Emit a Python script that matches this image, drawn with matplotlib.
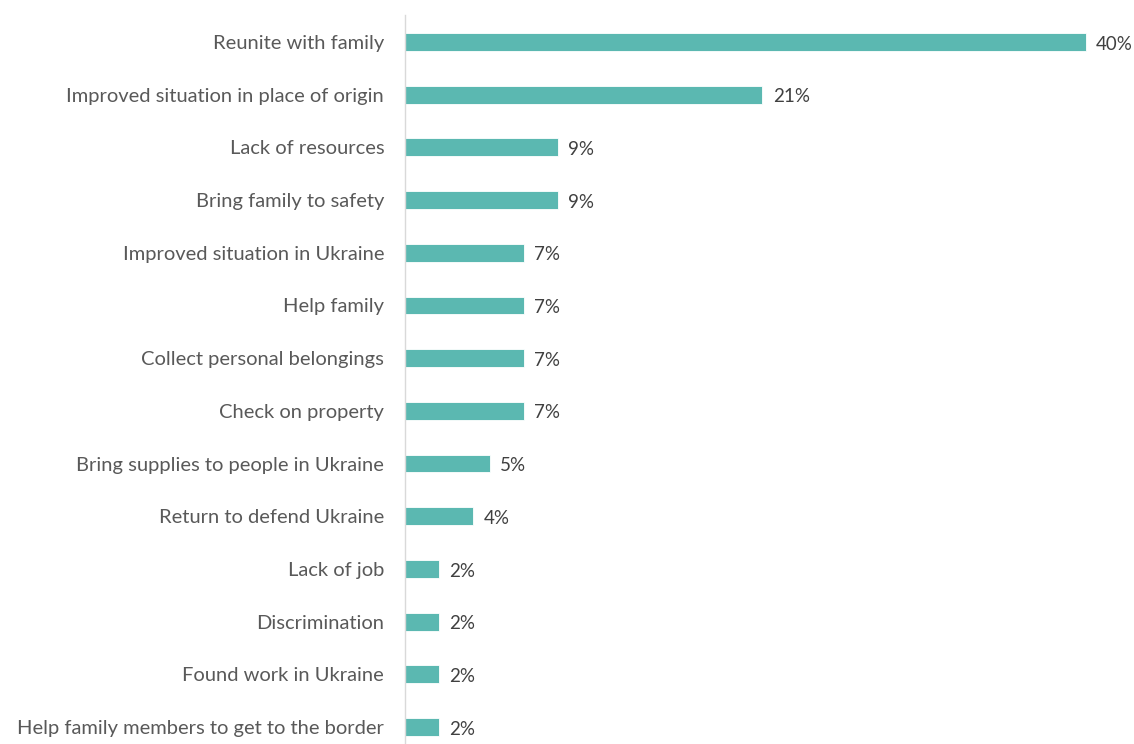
import matplotlib
matplotlib.use("Agg")
import matplotlib.pyplot as plt

categories = [
    "Reunite with family",
    "Improved situation in place of origin",
    "Lack of resources",
    "Bring family to safety",
    "Improved situation in Ukraine",
    "Help family",
    "Collect personal belongings",
    "Check on property",
    "Bring supplies to people in Ukraine",
    "Return to defend Ukraine",
    "Lack of job",
    "Discrimination",
    "Found work in Ukraine",
    "Help family members to get to the border",
]
values = [40, 21, 9, 9, 7, 7, 7, 7, 5, 4, 2, 2, 2, 2]

plt.rcParams["font.family"] = ["Lato", "DejaVu Sans"]

W, H = 1134, 744
fig = plt.figure(figsize=(W / 100, H / 100), dpi=100)
ax = fig.add_axes([405 / W, 0, 1 - 405 / W, 1 - 15 / H])

bar_color = "#5BB8B1"
pos = list(range(len(categories)))
ax.barh(pos, values, height=0.34, color=bar_color, edgecolor="white", linewidth=0.6)

for y, v in zip(pos, values):
    ax.text(v + 0.6, y + 0.04, f"{v}%", va="center", ha="left", fontsize=13.5, color="#404040")

ax.set_yticks(pos)
ax.set_yticklabels(categories, fontsize=14.5, color="#595959")
ax.tick_params(axis="y", length=0, pad=15)
ax.set_xticks([])

ax.set_xlim(0, (W - 405) / 17.02)
spacing = (727 - 42) / 13
ax.set_ylim(13 + 17 / spacing, -27 / spacing)

for s in ["top", "right", "bottom"]:
    ax.spines[s].set_visible(False)
ax.spines["left"].set_color("#D9D9D9")
ax.spines["left"].set_linewidth(1)

fig.savefig("out.png", dpi=100)
